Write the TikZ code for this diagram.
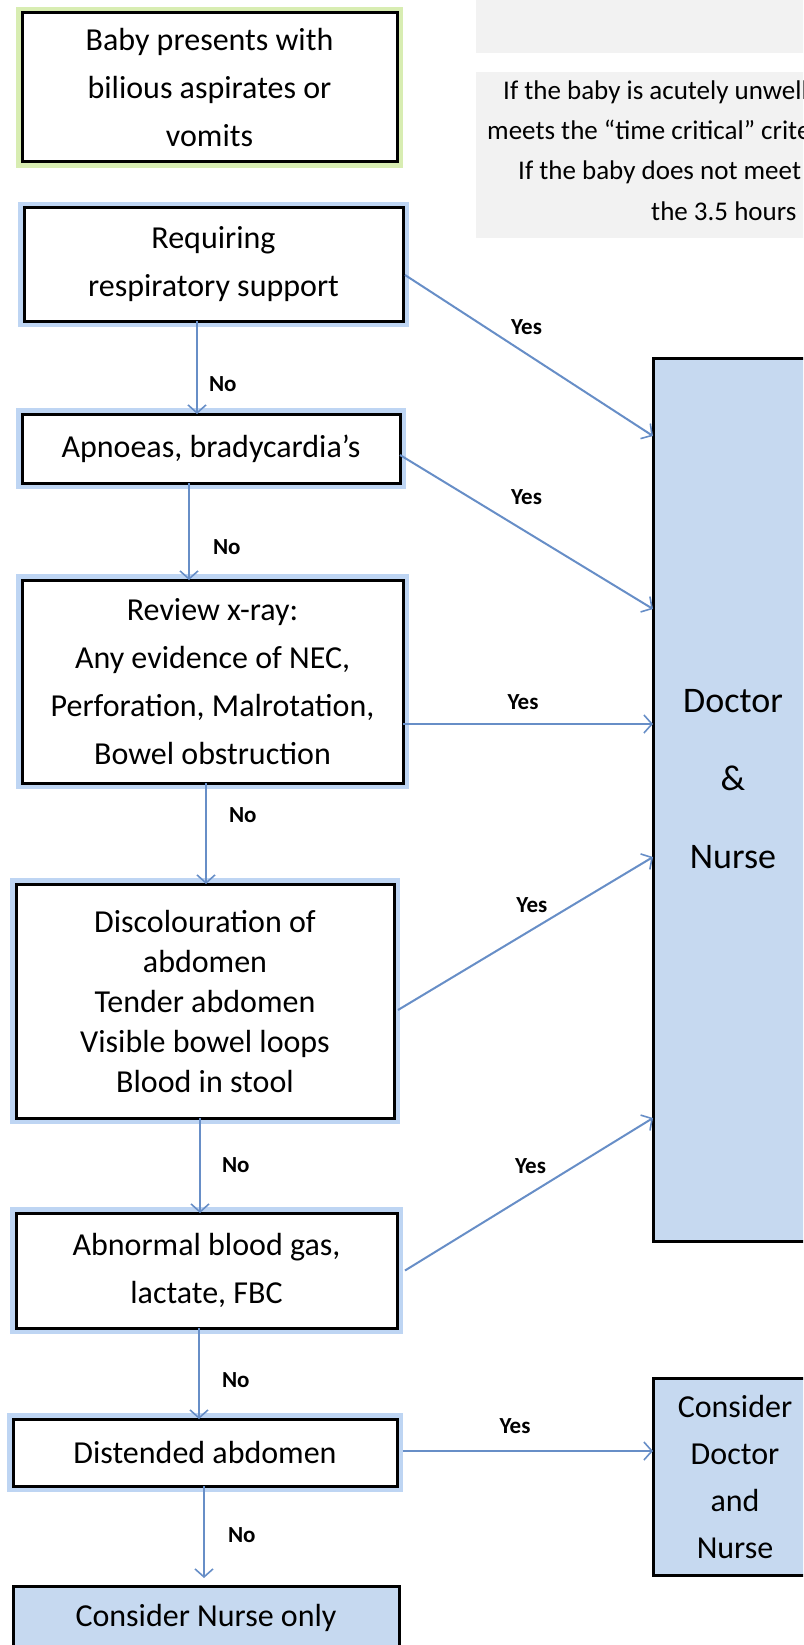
\documentclass[tikz,border=0pt]{standalone}
\usepackage{fontspec}
\setmainfont{Carlito}
\usetikzlibrary{positioning, arrows.meta}
\definecolor{glowblue}{RGB}{190,213,243}
\definecolor{glowgreen}{RGB}{216,237,178}
\definecolor{actblue}{RGB}{198,217,240}
\definecolor{infogray}{RGB}{242,242,242}
\definecolor{flowblue}{RGB}{103,142,199}
\tikzset{%
	flowbox/.style={draw, line width=3pt, fill=white, inner sep=0pt, outer sep=0pt,%
		align=center, font=\fontsize{32}{48}\selectfont},
	stepbox/.style={flowbox, preaction={draw=glowblue, line width=12pt}},
	startbox/.style={flowbox, preaction={draw=glowgreen, line width=12pt}},
	actbox/.style={flowbox, fill=actblue},
	infobox/.style={fill=infogray, inner sep=0pt, outer sep=0pt},
	infotext/.style={anchor=base west, inner sep=0pt, font=\fontsize{27}{41}\selectfont},
	flow/.style={draw=flowblue, line width=2pt,%
		-{Straight Barb[length=8pt, width=18pt, line width=1.6pt]}},
	ans/.style={font=\fontsize{23}{23}\selectfont\bfseries, inner sep=0pt}
}

\begin{document}
\begin{tikzpicture}[x=1pt, y=-1pt]
	\useasboundingbox (0,0) rectangle (803,1645);
	\clip (0,0) rectangle (803,1645);

	% grey notes, top right
	\node[infobox, minimum width=347pt, minimum height=63pt, anchor=north west] (note1) at (476,-10) {};
	\node[infobox, minimum width=347pt, minimum height=166pt, anchor=north west] (note2) at (476,72) {};
	\node[infotext] (note2a) at (503,100) {If the baby is acutely unwell};
	\node[infotext] (note2b) at (487,140) {meets the “time critical” criteria};
	\node[infotext] (note2c) at (518,180) {If the baby does not meet};
	\node[infotext] (note2d) at (651,221) {the 3.5 hours};

	% questions
	\node[startbox, minimum width=375pt, minimum height=149pt] (start) at (209.5,87.5)
		{Baby presents with\\bilious aspirates or\\vomits};
	\node[stepbox, minimum width=379pt, minimum height=113pt, below=46pt of start, xshift=4pt] (resp)
		{Requiring\\respiratory support};
	\node[stepbox, minimum width=378pt, minimum height=69pt, below=93pt of resp, xshift=-2.5pt] (apnoea)
		{Apnoeas, bradycardia’s};
	\node[stepbox, minimum width=381pt, minimum height=203pt, below=97pt of apnoea, xshift=1.5pt] (xray)
		{Review x-ray:\\Any evidence of NEC,\\Perforation, Malrotation,\\Bowel obstruction};
	\node[stepbox, minimum width=378pt, minimum height=234pt, below=101pt of xray, xshift=-7.5pt,%
		font=\fontsize{32}{40}\selectfont] (disc)
		{Discolouration of\\abdomen\\Tender abdomen\\Visible bowel loops\\Blood in stool};
	\node[stepbox, minimum width=381pt, minimum height=115pt, below=95pt of disc, xshift=1.5pt] (abg)
		{Abnormal blood gas,\\lactate, FBC};
	\node[stepbox, minimum width=384pt, minimum height=67pt, below=91pt of abg, xshift=-1.5pt] (dist)
		{Distended abdomen};
	\node[actbox, minimum width=386pt, minimum height=64pt, below=100pt of dist, xshift=1pt] (nurse)
		{Consider Nurse only};

	% outcomes
	\node[actbox, minimum width=160pt, minimum height=883pt] (doc) at (733,799.5) {};
	\node[align=center, inner sep=0pt, font=\fontsize{36}{78}\selectfont] (doctxt) at (733,779)
		{Doctor\\\&\\Nurse};
	\node[actbox, minimum width=164pt, minimum height=197pt, font=\fontsize{32}{47}\selectfont] (cdn)
		at (735,1476.5) {Consider\\Doctor\\and\\Nurse};

	% no
	\draw[flow] ([xshift=-16.5pt]resp.south) -- ([xshift=-14pt]apnoea.north)
		node[ans, pos=.68, right=11pt] (no1) {No};
	\draw[flow] ([xshift=-22pt]apnoea.south) -- ([xshift=-23.5pt]xray.north)
		node[ans, pos=.66, right=23pt] (no2) {No};
	\draw[flow] ([xshift=-6.5pt]xray.south) -- ([xshift=1pt]disc.north)
		node[ans, pos=.32, right=22pt] (no3) {No};
	\draw[flow] ([xshift=-5pt]disc.south) -- ([xshift=-6.5pt]abg.north)
		node[ans, pos=.5, right=21pt] (no4) {No};
	\draw[flow] ([xshift=-7.5pt]abg.south) -- ([xshift=-6pt]dist.north)
		node[ans, pos=.57, right=22pt] (no5) {No};
	\draw[flow] ([xshift=-1pt]dist.south) -- ([xshift=-2pt, yshift=8pt]nurse.north)
		node[ans, pos=.53, right=23pt] (no6) {No};

	% yes
	\draw[flow] ([xshift=2pt, yshift=-10.5pt]resp.east) -- ([yshift=-78pt]doc.north west)
		node[ans, pos=.49, yshift=27pt] (yes1) {Yes};
	\draw[flow] ([yshift=-6.5pt]apnoea.east) -- ([yshift=-251pt]doc.north west)
		node[ans, pos=.5, yshift=35pt] (yes2) {Yes};
	\draw[flow] ([yshift=-42.5pt]xray.east) -- ([yshift=-366pt]doc.north west)
		node[ans, pos=.48, yshift=21.5pt] (yes3) {Yes};
	\draw[flow] ([xshift=4pt, yshift=-9pt]disc.east) -- ([yshift=-499pt]doc.north west)
		node[ans, pos=.525, yshift=24.5pt] (yes4) {Yes};
	\draw[flow] ([xshift=8pt]abg.east) -- ([yshift=-760pt]doc.north west)
		node[ans, pos=.506, yshift=27.5pt] (yes5) {Yes};
	\draw[flow] ([xshift=6pt, yshift=1.5pt]dist.east) -- ([yshift=25.5pt]cdn.west)
		node[ans, pos=.448, yshift=25pt] (yes6) {Yes};
\end{tikzpicture}
\end{document}
